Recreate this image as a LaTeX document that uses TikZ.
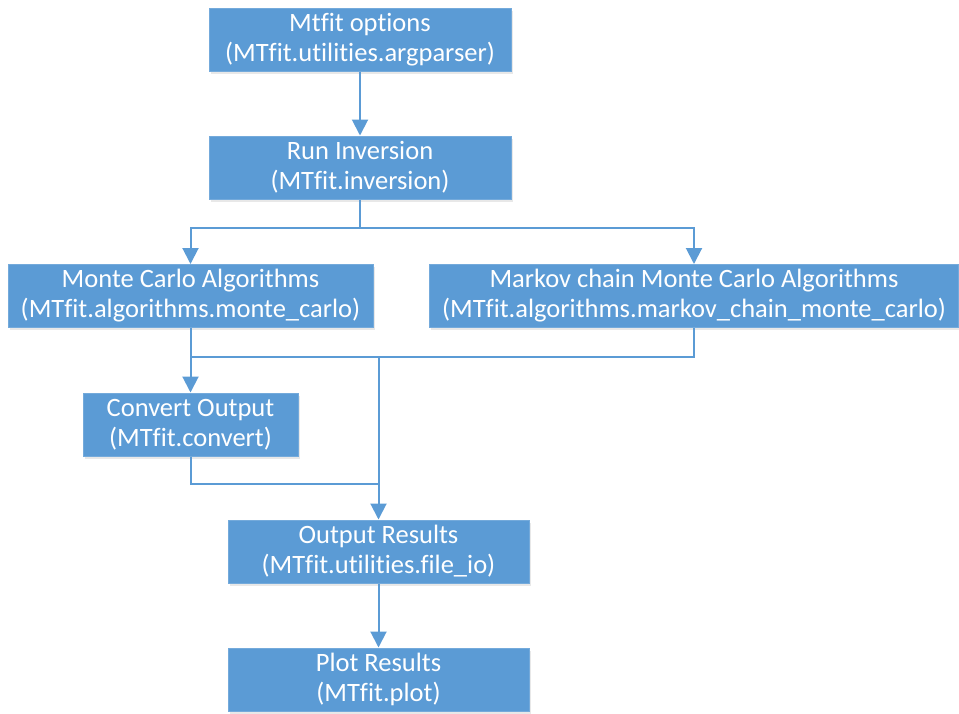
\documentclass[tikz,border=0pt]{standalone}
\usepackage{fontspec}
\setmainfont{Carlito}[Ligatures=NoCommon]
\usetikzlibrary{arrows.meta,shadows}
\definecolor{boxblue}{HTML}{5B9BD5}
\begin{document}
\begin{tikzpicture}[x=1pt,y=-1pt,
 box/.style={fill=boxblue, draw=boxblue!85!white, line width=1pt, text=white, align=center,
   minimum height=63pt, inner sep=0pt, font=\fontsize{26.5}{30}\selectfont,
   drop shadow={opacity=0.18,shadow xshift=1.5pt,shadow yshift=-2.5pt}},
 conn/.style={draw=boxblue, line width=2pt},
 arr/.style={conn, -{Triangle[width=16pt,length=16pt]}}]
\useasboundingbox (0,0) rectangle (959,713);
\node[box, minimum width=302pt] (opt) at (360,39.5) {Mtfit options\\(MTfit.utilities.argparser)};
\node[box, minimum width=302pt] (inv) at (360,167.5) {Run Inversion\\(MTfit.inversion)};
\node[box, minimum width=365pt] (mc) at (190.5,296) {Monte Carlo Algorithms\\(MTfit.algorithms.monte\_carlo)};
\node[box, minimum width=529pt] (mcmc) at (694,296) {Markov chain Monte Carlo Algorithms\\(MTfit.algorithms.markov\_chain\_monte\_carlo)};
\node[box, minimum width=215pt] (conv) at (190.5,424.5) {Convert Output\\(MTfit.convert)};
\node[box, minimum width=301pt] (out) at (378.5,551.5) {Output Results\\(MTfit.utilities.file\_io)};
\node[box, minimum width=301pt] (plot) at (378.5,679.5) {Plot Results\\(MTfit.plot)};
\coordinate (b1) at (360,228);
\coordinate (m) at (378.5,357);
\coordinate (j) at (378.5,484);
\draw[arr] (opt) -- (inv);
\draw[conn] (inv.south) -- (b1);
\draw[arr] (b1) -| (mc.north);
\draw[arr] (b1) -| (mcmc.north);
\draw[conn] (mc.south) |- (m);
\draw[conn] (mcmc.south) |- (m);
\draw[arr] (mc.south) -- (conv.north);
\draw[arr] (m) -- (out.north);
\draw[conn] (conv.south) |- (j);
\draw[arr] (out) -- (plot);
\end{tikzpicture}
\end{document}
